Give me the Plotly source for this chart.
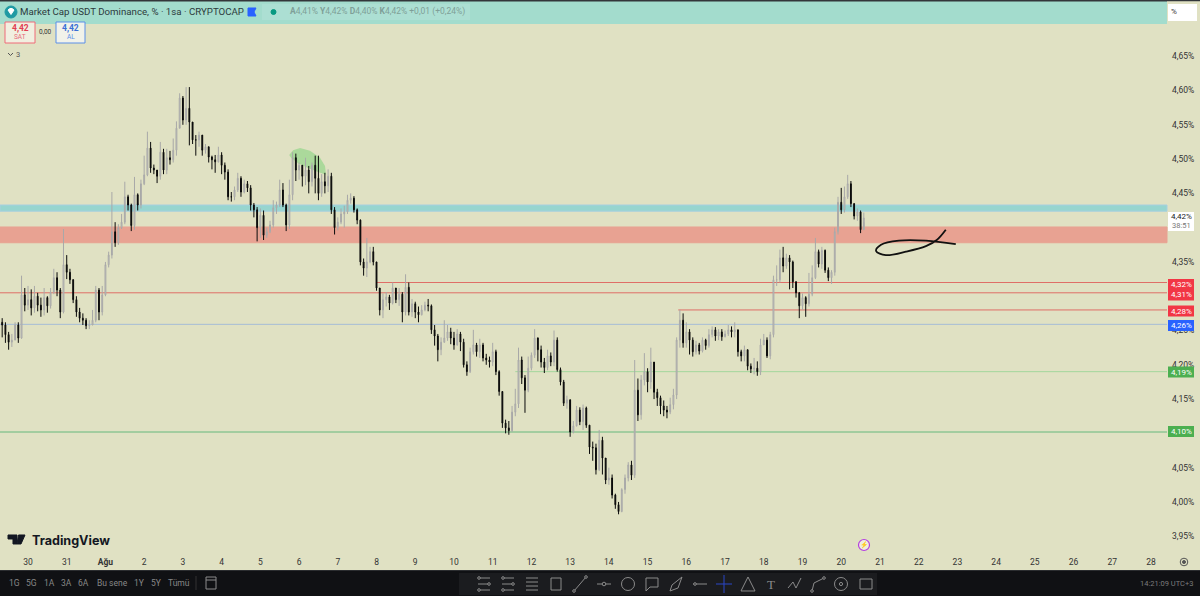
import pandas as pd
import plotly.graph_objects as go

# Two-hourly USDT dominance
first_open = 4.262
closes = [
4.258,4.244,4.233,4.236,4.258,4.239,4.302,4.287,
4.295,4.283,4.300,4.287,4.280,4.298,4.286,4.306,4.327,4.309,4.277,4.346,
4.335,4.324,4.295,4.277,4.268,4.265,4.257,4.258,4.265,4.309,4.277,4.302,
4.346,4.360,4.394,4.378,4.400,4.408,4.445,4.433,4.403,4.448,4.433,4.464,
4.477,4.516,4.487,4.484,4.475,4.510,4.484,4.502,4.499,4.513,4.545,4.589,
4.557,4.574,4.554,4.528,4.528,4.535,4.513,4.518,4.503,4.499,4.496,4.506,
4.491,4.481,4.445,4.445,4.455,4.472,4.452,4.464,4.458,4.433,4.426,4.400,
4.418,4.389,4.394,4.404,4.429,4.433,4.455,4.433,4.404,4.448,4.502,4.484,
4.491,4.475,4.484,4.467,4.491,4.472,4.450,4.467,4.461,4.475,4.426,4.400,
4.408,4.420,4.423,4.440,4.443,4.426,4.411,4.350,4.341,4.350,4.365,4.350,
4.312,4.280,4.295,4.299,4.290,4.312,4.295,4.303,4.277,4.313,4.277,4.289,
4.277,4.273,4.280,4.287,4.286,4.251,4.242,4.222,4.233,4.239,4.248,4.239,
4.229,4.245,4.233,4.200,4.190,4.219,4.229,4.219,4.229,4.210,4.207,4.204,
4.219,4.190,4.161,4.115,4.108,4.104,4.131,4.143,4.207,4.181,4.163,4.195,
4.214,4.239,4.222,4.204,4.196,4.213,4.204,4.236,4.193,4.175,4.144,4.149,
4.102,4.111,4.134,4.117,4.137,4.112,4.080,4.079,4.047,4.090,4.064,4.032,
4.035,4.010,3.996,3.986,4.018,4.035,4.054,4.039,4.163,4.127,4.178,4.190,
4.175,4.204,4.160,4.152,4.140,4.134,4.131,4.142,4.156,4.236,4.265,4.232,
4.248,4.236,4.219,4.229,4.220,4.236,4.228,4.244,4.251,4.242,4.248,4.241,
4.245,4.251,4.248,4.251,4.219,4.213,4.222,4.198,4.194,4.195,4.190,4.229,
4.236,4.213,4.244,4.324,4.324,4.356,4.344,4.356,4.350,4.321,4.305,4.286,
4.298,4.289,4.303,4.327,4.365,4.347,4.367,4.338,4.327,4.335,4.394,4.437,
4.426,4.445,4.464,4.435,4.417,4.423,4.397,4.414]
highs = [
4.268,4.262,4.248,4.245,4.262,4.262,4.330,4.312,
4.315,4.310,4.315,4.305,4.298,4.312,4.300,4.312,4.340,4.335,4.312,4.398,
4.360,4.340,4.325,4.300,4.283,4.275,4.268,4.265,4.280,4.315,4.312,4.315,
4.350,4.365,4.452,4.408,4.405,4.420,4.467,4.448,4.435,4.474,4.450,4.470,
4.505,4.540,4.525,4.492,4.482,4.525,4.515,4.515,4.512,4.530,4.555,4.596,
4.592,4.605,4.605,4.550,4.535,4.540,4.535,4.522,4.518,4.505,4.506,4.518,
4.510,4.495,4.485,4.452,4.460,4.480,4.475,4.470,4.468,4.462,4.436,4.430,
4.428,4.425,4.400,4.410,4.440,4.438,4.470,4.465,4.435,4.470,4.510,4.508,
4.495,4.490,4.502,4.490,4.495,4.505,4.505,4.478,4.480,4.485,4.480,4.430,
4.415,4.428,4.432,4.448,4.450,4.446,4.428,4.412,4.355,4.385,4.372,4.372,
4.350,4.312,4.304,4.306,4.302,4.320,4.312,4.312,4.306,4.332,4.320,4.296,
4.292,4.285,4.287,4.292,4.296,4.288,4.258,4.245,4.240,4.265,4.258,4.254,
4.248,4.252,4.248,4.238,4.205,4.225,4.251,4.232,4.238,4.232,4.216,4.212,
4.232,4.222,4.192,4.160,4.120,4.118,4.140,4.165,4.225,4.212,4.185,4.212,
4.218,4.252,4.240,4.228,4.210,4.222,4.218,4.250,4.240,4.196,4.178,4.155,
4.135,4.118,4.140,4.138,4.142,4.139,4.112,4.088,4.085,4.105,4.095,4.062,
4.050,4.040,4.012,4.000,4.020,4.040,4.058,4.060,4.207,4.180,4.185,4.217,
4.195,4.225,4.204,4.165,4.155,4.148,4.140,4.152,4.165,4.240,4.280,4.275,
4.262,4.252,4.240,4.235,4.232,4.240,4.238,4.252,4.256,4.255,4.252,4.252,
4.250,4.258,4.256,4.262,4.248,4.222,4.228,4.222,4.202,4.210,4.205,4.238,
4.245,4.240,4.248,4.330,4.345,4.368,4.372,4.362,4.360,4.352,4.322,4.306,
4.304,4.300,4.334,4.345,4.385,4.368,4.372,4.368,4.342,4.338,4.400,4.445,
4.458,4.460,4.477,4.468,4.436,4.428,4.425,4.422]
lows = [
4.240,4.232,4.222,4.226,4.236,4.232,4.238,4.278,
4.280,4.272,4.276,4.278,4.270,4.272,4.276,4.282,4.303,4.300,4.268,4.275,
4.325,4.318,4.290,4.270,4.262,4.258,4.252,4.252,4.258,4.262,4.265,4.272,
4.300,4.342,4.355,4.372,4.375,4.398,4.405,4.425,4.395,4.397,4.425,4.428,
4.462,4.475,4.480,4.478,4.465,4.470,4.478,4.478,4.492,4.495,4.505,4.550,
4.550,4.550,4.520,4.522,4.505,4.518,4.505,4.508,4.495,4.485,4.480,4.495,
4.478,4.470,4.440,4.438,4.440,4.452,4.445,4.450,4.452,4.425,4.415,4.380,
4.385,4.382,4.385,4.392,4.400,4.420,4.430,4.430,4.395,4.398,4.440,4.468,
4.470,4.460,4.462,4.450,4.460,4.450,4.440,4.445,4.450,4.452,4.420,4.390,
4.396,4.405,4.400,4.420,4.435,4.422,4.405,4.345,4.330,4.328,4.348,4.345,
4.308,4.272,4.268,4.285,4.280,4.288,4.290,4.286,4.262,4.272,4.272,4.270,
4.268,4.262,4.272,4.278,4.278,4.245,4.228,4.205,4.214,4.232,4.235,4.230,
4.222,4.228,4.220,4.196,4.184,4.188,4.215,4.212,4.210,4.205,4.200,4.196,
4.198,4.185,4.155,4.108,4.100,4.098,4.102,4.125,4.137,4.172,4.130,4.160,
4.192,4.210,4.205,4.196,4.188,4.192,4.198,4.198,4.190,4.170,4.140,4.136,
4.095,4.100,4.110,4.112,4.105,4.108,4.070,4.060,4.040,4.045,4.040,4.026,
4.025,4.005,3.990,3.982,3.985,4.012,4.030,4.032,4.035,4.118,4.120,4.170,
4.160,4.165,4.150,4.140,4.128,4.125,4.122,4.128,4.135,4.150,4.225,4.225,
4.225,4.215,4.212,4.215,4.215,4.218,4.222,4.225,4.240,4.235,4.236,4.235,
4.240,4.242,4.240,4.240,4.212,4.205,4.205,4.192,4.188,4.186,4.184,4.185,
4.230,4.210,4.208,4.240,4.315,4.320,4.335,4.340,4.310,4.312,4.298,4.268,
4.280,4.270,4.285,4.300,4.325,4.342,4.340,4.334,4.322,4.318,4.330,4.390,
4.420,4.422,4.442,4.430,4.412,4.410,4.392,4.408]

y_ticks = [4.65,4.60,4.55,4.50,4.45,4.35,4.25,4.20,4.15,4.05,4.00,3.95]
y_tick_labels = ["4,65%","4,60%","4,55%","4,50%","4,45%","4,35%","4,25%","4,20%","4,15%","4,05%","4,00%","3,95%"]
day_ticks = pd.date_range("2025-07-30", "2025-08-28", freq="D")
day_labels = ["30","31","<b>Ağu</b>"] + [str(d) for d in range(2, 29)]

blue_zone = (4.424, 4.433)
red_zone = (4.378, 4.401)
level_prices = [4.32, 4.305, 4.28, 4.259, 4.19, 4.102]
level_starts = ["2025-08-08 00:00","2025-07-29 06:00","2025-08-15 19:00","2025-07-29 06:00","2025-08-11 14:00","2025-07-29 06:00"]
level_colors = ["#df6e67","#df6e67","#df6e67","#a5bcd6","#a3d69c","#66b87c"]
level_tags = ["4,32%","4,31%","4,28%","4,26%","4,19%","4,10%"]
tag_colors = ["#f23645","#f23645","#f23645","#2962ff","#4caf50","#4caf50"]
tag_pixels = [284.5, 295, 311, 325.5, 372, 431.5]

blob_t = ["2025-08-05_17:54","2025-08-05_20:17","2025-08-06_00:38","2025-08-06_06:48","2025-08-06_13:00","2025-08-06_16:05",
          "2025-08-06_16:42","2025-08-06_11:46","2025-08-06_05:34","2025-08-05_23:22","2025-08-05_19:03"]
blob_p = [4.506,4.513,4.516,4.512,4.502,4.490,4.477,4.481,4.487,4.494,4.502]
stroke_t = ["2025-08-22 16:48","2025-08-22 11:12","2025-08-22 04:30","2025-08-21 16:06","2025-08-21 03:40","2025-08-20 21:36",
            "2025-08-21 00:40","2025-08-21 11:46","2025-08-22 04:30","2025-08-22 23:00"]
stroke_p = [4.397,4.382,4.373,4.365,4.360,4.366,4.375,4.381,4.381,4.376]

range_labels = ["1G","5G","1A","3A","6A","Bu sene","1Y","5Y","Tümü"]
range_label_x = [14,31,49,66,83,112,139,156,179]

W, H = 1200, 596
BG = "#e0e1c3"
opens = [first_open] + closes[:-1]
times = pd.date_range("2025-07-29 08:00", periods=len(closes), freq="2h")

def px(x): return x / W
def py(y): return 1 - y / H

shapes, notes = [], []

def rect(x0, y0, x1, y1, fill, line=None, lw=1, layer="above"):
    shapes.append(dict(type="rect", xref="paper", yref="paper", x0=px(x0), x1=px(x1), y0=py(y0), y1=py(y1),
                       fillcolor=fill, line=dict(color=line or fill, width=lw if line else 0), layer=layer))

def seg(x0, y0, x1, y1, color="#8b8b8b", lw=1):
    shapes.append(dict(type="line", xref="paper", yref="paper", x0=px(x0), x1=px(x1), y0=py(y0), y1=py(y1),
                       line=dict(color=color, width=lw), layer="above"))

def circ(cx, cy, r, fill="rgba(0,0,0,0)", line="#8b8b8b", lw=1):
    shapes.append(dict(type="circle", xref="paper", yref="paper", x0=px(cx-r), x1=px(cx+r), y0=py(cy-r), y1=py(cy+r),
                       fillcolor=fill, line=dict(color=line, width=lw), layer="above"))

def poly(points, fill="rgba(0,0,0,0)", line="#8b8b8b", lw=1, close=False):
    d = "M " + " L ".join(f"{px(a):.5f},{py(b):.5f}" for a, b in points) + (" Z" if close else "")
    shapes.append(dict(type="path", xref="paper", yref="paper", path=d, fillcolor=fill,
                       line=dict(color=line, width=lw), layer="above"))

def txt(x, y, s, size=8, color="#333333", anchor="center", family="Roboto"):
    notes.append(dict(xref="paper", yref="paper", x=px(x), y=py(y), text=s, showarrow=False, xanchor=anchor,
                      yanchor="middle", font=dict(size=size, color=color, family=family), borderpad=0))

# zones and levels, under the candles
for lo_hi, fill, edge in [(blue_zone, "#97d5cf", "#a7cfe0"), (red_zone, "#e8a292", "#e8a292")]:
    shapes.append(dict(type="rect", xref="x domain", yref="y", x0=0, x1=1, y0=lo_hi[0], y1=lo_hi[1],
                       fillcolor=fill, line=dict(color=edge, width=1), layer="below"))
for p, s, c in zip(level_prices, level_starts, level_colors):
    shapes.append(dict(type="line", xref="x", yref="y", x0=s, x1="2025-08-28 10:00", y0=p, y1=p,
                       line=dict(color=c, width=1), layer="below"))
shapes.append(dict(type="path", xref="x", yref="y", layer="below", fillcolor="#abd99b", line=dict(width=0),
                   path="M " + " L ".join(f"{t},{p}" for t, p in zip(blob_t, blob_p)) + " Z"))

# header
rect(0, 0, 1167, 24, "#a3dccd")
rect(0, 0, W, 1.5, "#33363a")
rect(1167, 1.5, W, 24, BG)
rect(262, 4, 470, 20, "#acdfd3")
circ(11, 12, 6, fill="#1f9aa3", line="#1f9aa3")
poly([(8,10),(10,8.5),(12,8.5),(14,10),(11,14.5)], fill="#ffffff", line="#ffffff", close=True)
txt(19, 12, "Market Cap USDT Dominance, % · 1sa · CRYPTOCAP", 9.7, "#2c3a3c", "left", "Roboto")
poly([(248,8),(256,8),(254,12),(256,16),(248,16)], fill="#2962ff", line="#2962ff", close=True)
circ(273.5, 12, 2.5, fill="#089981", line="#089981")
txt(289, 12, "<b>A</b>4,41% <b>Y</b>4,42% <b>D</b>4,40% <b>K</b>4,42% +0,01 (+0,24%)", 8.5, "#7f9f98", "left")
rect(1168, 4, 1197, 21, "#ffffff")
txt(1174, 12, "%", 8, "#333333")

# buy / sell boxes
shapes.append(dict(type="rect", xref="paper", yref="paper", x0=px(5), x1=px(35), y0=py(22), y1=py(43),
                   fillcolor="#f1efe0", line=dict(color="#ef6a78", width=1), layer="above"))
shapes.append(dict(type="rect", xref="paper", yref="paper", x0=px(56), x1=px(85), y0=py(22), y1=py(43),
                   fillcolor="#f1f2ea", line=dict(color="#5b8fe8", width=1), layer="above"))
txt(20, 28, "<b>4,42</b>", 8.5, "#e23d52")
txt(20, 37.5, "SAT", 6.5, "#e86a7a")
txt(45.5, 32, "0,00", 6.5, "#333333")
txt(70.5, 28, "<b>4,42</b>", 8.5, "#3b6fd6")
txt(70.5, 37.5, "AL", 6.5, "#5b8fe8")
poly([(8,53),(10.5,55.5),(13,53)], line="#555555")
txt(18, 54.5, "3", 7.5, "#555555")

# TradingView mark
poly([(8,535),(17,535),(17,544),(13,544),(13,539),(8,539)], fill="#131722", line="#131722", close=True)
poly([(18.5,535),(25,535),(21,544),(17,544)], fill="#131722", line="#131722", close=True)
txt(31, 540, "<b>TradingView</b>", 12.6, "#131722", "left", "Inter")

# marker and clock
circ(864, 545, 5.5, fill="#f0eedc", line="#b43fe0", lw=1.2)
txt(864, 545, "⚡", 6.5, "#8a2fc0")
circ(1184, 562, 3.8, line="#555555")
circ(1184, 562, 1.5, fill="#555555", line="#555555")

# price tags
for s, c, yy in zip(level_tags, tag_colors, tag_pixels):
    rect(1168, yy-5.5, 1194, yy+5.5, c)
    txt(1181, yy, s, 8, "#ffffff")
rect(1168, 212, 1194, 231, "#ffffff")
txt(1181, 216.5, "4,42%", 8, "#222222")
txt(1181, 226, "38:51", 7.5, "#777777")

# bottom bar
rect(0, 571, W, H, "#101114")
rect(0, 570, W, 571, "#2b2d30")
for s, xx in zip(range_labels, range_label_x):
    txt(xx, 583, s, 8.5, "#878787")
seg(196, 576, 196, 590, "#333333")
rect(206, 577, 216, 589, "rgba(0,0,0,0)", "#8b8b8b")
seg(206, 580, 216, 580)
rect(459, 573, 877, 595, "#1b1c1f")
G = "#8b8b8b"
cy = 584
for xx in (484, 508):
    for dy in (-6, 0, 6):
        seg(xx-6, cy+dy, xx+6, cy+dy)
        circ(xx-5 if dy else xx+5, cy+dy, 1.3, fill="#1b1c1f")
for dy in (-6, -2, 2, 6):
    seg(526, cy+dy, 538, cy+dy)
rect(551, cy-6, 561, cy+6, "rgba(0,0,0,0)", G)
seg(574, cy+7, 586, cy-7); circ(574, cy+7, 1.3, fill="#1b1c1f"); circ(586, cy-7, 1.3, fill="#1b1c1f")
seg(597, cy, 611, cy); circ(604, cy, 1.8, fill="#1b1c1f")
circ(628, cy, 6.5)
poly([(646,cy-6),(658,cy-6),(658,cy+3),(650,cy+3),(646,cy+7)], close=True)
poly([(670,cy+7),(672,cy+1),(682,cy-7),(678,cy+4),(670,cy+7)])
seg(693, cy, 707, cy); circ(695, cy, 1.3, fill="#1b1c1f")
seg(724, cy-9, 724, cy+9, "#2b46c8"); seg(716, cy, 732, cy, "#2b46c8")
poly([(741,cy+7),(748,cy-7),(755,cy+7),(741,cy+7)])
txt(771, cy, "T", 13, G, family="Liberation Serif")
poly([(788,cy+4),(793,cy-2),(796,cy+4),(801,cy-6)])
poly([(812,cy+7),(814,cy-1),(824,cy-6)]); circ(812, cy+7, 1.3, fill="#1b1c1f"); circ(824, cy-6, 1.3, fill="#1b1c1f")
circ(841, cy, 6.5); circ(841, cy, 1.6)
shapes.append(dict(type="rect", xref="paper", yref="paper", x0=px(860), x1=px(872), y0=py(cy-5), y1=py(cy+5),
                   fillcolor="rgba(0,0,0,0)", line=dict(color=G, width=1), layer="above"))
txt(1194, 583, "14:21:09 UTC+3", 7.5, "#7c7c7c", "right")

fig = go.Figure()
fig.add_trace(go.Candlestick(
    x=times, open=opens, high=highs, low=lows, close=closes,
    increasing=dict(line=dict(color="#a8a8a8", width=1), fillcolor="#d8d8ce"),
    decreasing=dict(line=dict(color="#0a0a0a", width=1), fillcolor="#0a0a0a"),
    whiskerwidth=0, hoverinfo="skip", showlegend=False))
fig.add_trace(go.Scatter(x=stroke_t, y=stroke_p, mode="lines", line=dict(color="#111111", width=1.8, shape="spline", smoothing=1),
                         hoverinfo="skip", showlegend=False))

fig.update_layout(
    width=W, height=H, autosize=False, margin=dict(l=0, r=0, t=0, b=0), boxgap=0.62,
    paper_bgcolor=BG, plot_bgcolor=BG, showlegend=False, shapes=shapes, annotations=notes,
    font=dict(family="Roboto", size=8, color="#333333"),
    xaxis=dict(domain=[0, 1167/W], range=["2025-07-29 06:39", "2025-08-28 09:54"], rangeslider=dict(visible=False),
               tickvals=day_ticks, ticktext=day_labels, tickmode="array", showgrid=False, zeroline=False,
               showline=False, ticks="", tickangle=0, tickfont=dict(size=8.5, color="#333333"), anchor="y",
               ticklabelstandoff=3),
    yaxis=dict(domain=[1-552/H, 1-24/H], range=[3.927, 4.697], side="right", tickmode="array",
               tickvals=y_ticks, ticktext=y_tick_labels, showgrid=False, zeroline=False, showline=False, ticks="",
               tickfont=dict(size=8.5, color="#333333"), anchor="x", ticklabelposition="outside", ticklabelstandoff=4),
)
fig.write_html("out.html", config=dict(displayModeBar=False),
               post_script="document.body.style.margin='0';document.body.style.overflow='hidden';")
